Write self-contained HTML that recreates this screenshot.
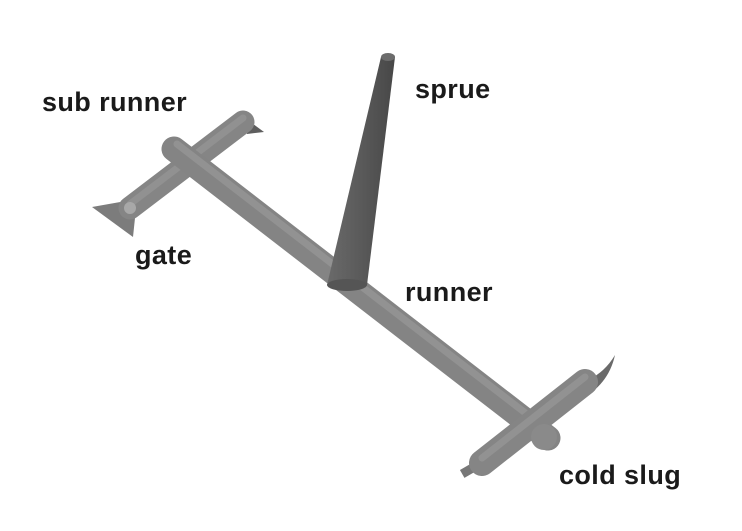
<!DOCTYPE html>
<html><head><style>
html,body{margin:0;padding:0;background:#fff;}
svg{display:block}
text{font-family:"Liberation Sans",Arial,sans-serif;font-size:27px;font-weight:bold;fill:#1a1a1a;letter-spacing:0.4px;}
</style></head><body>
<svg width="742" height="531" viewBox="0 0 742 531">
<defs>
<linearGradient id="sp" x1="0" y1="0" x2="1" y2="0">
<stop offset="0" stop-color="#6a6a6a"/><stop offset="0.5" stop-color="#5a5a5a"/><stop offset="1" stop-color="#474747"/>
</linearGradient>
</defs>
<polygon points="92,207 137,199 133,237" fill="#7c7c7c"/>
<polygon points="245,118 264,132 247,134" fill="#5e5e5e"/>
<line x1="130" y1="208" x2="243" y2="122" stroke="#858585" stroke-width="23" stroke-linecap="round"/>
<line x1="130" y1="204" x2="243" y2="118" stroke="#9a9a9a" stroke-width="7" stroke-linecap="round" opacity="0.6"/>
<circle cx="130" cy="208" r="6" fill="#a8a8a8"/>
<line x1="174" y1="149" x2="548" y2="438" stroke="#848484" stroke-width="25" stroke-linecap="round"/>
<line x1="177" y1="144" x2="550" y2="432" stroke="#9c9c9c" stroke-width="7" stroke-linecap="round" opacity="0.6"/>
<polygon points="381,57 395,57 367,285 327,285" fill="url(#sp)"/>
<ellipse cx="388" cy="57" rx="7" ry="4" fill="#6c6c6c"/>
<ellipse cx="347" cy="285" rx="20" ry="6" fill="#555"/>
<rect x="461" y="466" width="15" height="9" fill="#777" transform="rotate(-30 468 470)"/>
<path d="M588,380 Q605,372 615,355 Q610,378 592,392 Z" fill="#6a6a6a"/>
<line x1="482" y1="463" x2="585" y2="382" stroke="#858585" stroke-width="26" stroke-linecap="round"/>
<line x1="482" y1="458" x2="585" y2="377" stroke="#9c9c9c" stroke-width="7" stroke-linecap="round" opacity="0.6"/>
<circle cx="544" cy="437" r="13" fill="#8a8a8a"/>
<text x="42" y="111">sub runner</text>
<text x="415" y="98">sprue</text>
<text x="135" y="264">gate</text>
<text x="405" y="301">runner</text>
<text x="559" y="484">cold slug</text>
</svg>
</body></html>
